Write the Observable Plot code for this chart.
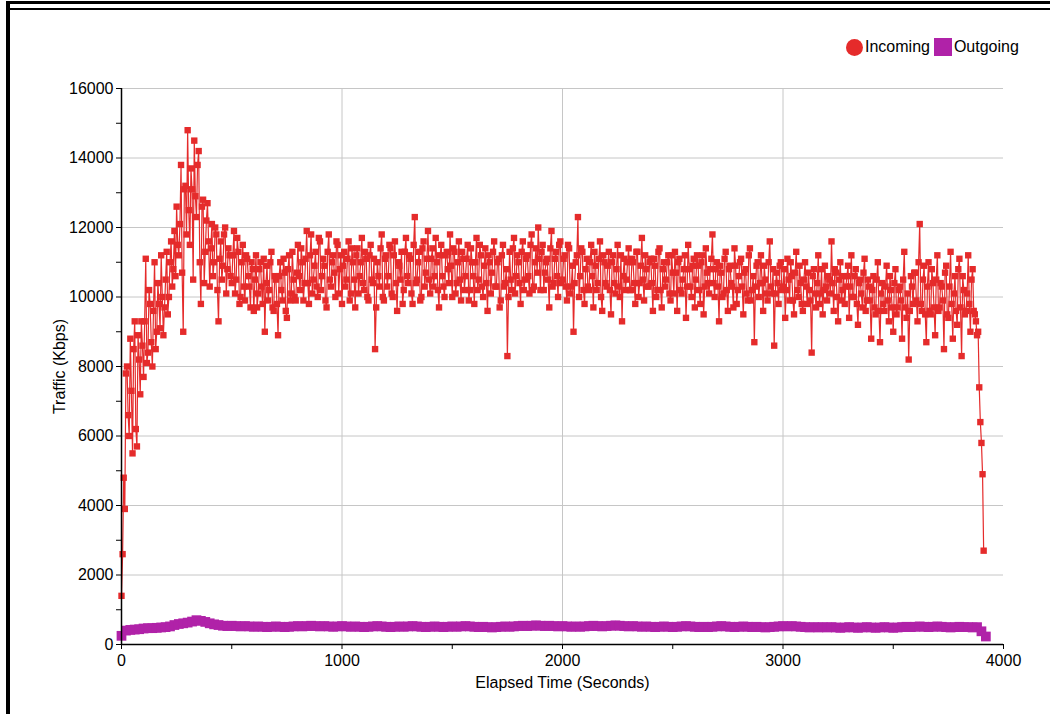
<!DOCTYPE html>
<html><head><meta charset="utf-8">
<script src="https://cdn.jsdelivr.net/npm/d3@7"></script>
<script src="https://cdn.jsdelivr.net/npm/@observablehq/plot@0.6"></script>
<style>
body{margin:0;background:#fff;font-family:"Liberation Sans",Arial,sans-serif;}
#wrap{position:relative;width:1050px;height:714px;overflow:hidden;background:#fff}
#chart{position:absolute;left:0;top:0}
.bar{position:absolute;background:#000}
#legend{position:absolute;left:846px;top:37px;height:20px;font-size:16px;color:#000;display:flex;align-items:center}
#legend .c{width:17px;height:17px;border-radius:50%;background:#e52b2b;margin-right:2px}
#legend .s{width:18px;height:18px;background:#b022a8;margin:0 2px 0 4px}
</style></head><body>
<div id="wrap">
  <div id="chart"></div>
  <div class="bar" style="left:6px;top:1px;width:1044px;height:3px"></div>
  <div class="bar" style="left:10px;top:8px;width:1040px;height:2px"></div>
  <div class="bar" style="left:6px;top:1px;width:4px;height:713px"></div>
  <div id="legend"><div class="c"></div><span>Incoming</span><div class="s"></div><span>Outgoing</span></div>
</div>
<script>
// Incoming traffic (Kbps): samples at t = 0, 10, 20, ... s
const incomingA = [
  1400, 4800, 7800, 6600, 8800, 5500, 9300, 5700, 8200, 9300,
  7700, 11100, 8400, 9800, 8000, 11000, 9000, 9800, 11200, 8900,
  10500, 9500, 11000, 10300, 11900, 12600, 11200, 13800, 9000, 13200,
  14800, 11500, 13100, 14500, 12300, 14200, 9800, 12800, 11300, 12700,
  10300, 12100, 11000, 11800, 9300, 11600, 10900, 12000, 10800, 11200,
  10400, 11900, 10500, 11300, 10000, 11500, 9900, 11100, 10300, 11000,
  9600, 11200, 10100, 11000, 9800, 9000, 10900, 10200, 11300, 9600,
  10500, 8900, 11000, 9900, 10700, 9400, 11200, 10100, 10500, 9900,
  11500, 10200, 11000, 10400, 11900, 9800, 11800, 10500, 11300, 10000,
  11600, 10600, 10900, 9700, 11800, 10300, 11200, 10000, 11500, 10800,
  9800, 11300, 10500, 11600, 10100, 11000, 9700, 11400, 10600, 11700,
  10200, 11100, 9900, 11500, 10400, 8500, 11000, 10300, 11800, 9900,
  11200, 10600, 11400, 10000, 11600, 9600, 10900, 11300, 10200, 11700,
  10400, 11100, 9800, 12300, 10500, 11300, 10000, 11600, 10700, 11900,
  10100, 11400, 10600, 11000, 9700, 11500, 10300, 11200, 10800, 11800,
  10000, 11300, 10400, 11600, 9900, 11100, 10600, 11500, 10200, 11000,
  9800, 11700, 10500, 11200, 10000, 11400, 9600, 11000, 10700, 11600,
  10300, 11100, 9900, 11500, 10400, 8300, 11300, 10200, 11700, 10600,
  11000, 9800, 11600, 10500, 11200, 10100, 11800, 10300, 11400, 12000,
  10200, 11500, 10700, 11100, 9700, 11900, 10400, 11300, 10000, 11600,
  10500, 11200, 9900, 11400, 10300, 9000, 11000, 12300, 10600, 11300,
  9800, 11100, 10200, 11500, 9700, 10900, 10400, 11600, 9600, 11000,
  10300, 11300, 9500, 11200, 10100, 11500, 10000, 9300, 11100, 10500,
  11400, 10200, 11000, 9800, 11300, 10400, 11700, 9900, 10800, 10300,
  11100, 9600, 10900, 10200, 11400, 9700, 11000, 10500, 11200, 9900,
  10700, 11300, 9600, 11100, 10100, 10800, 9400, 11500, 10300, 10900,
  9700, 11200, 10200, 11000, 9500, 11400, 10400, 10800, 11800, 10000,
  11000, 9300, 10700, 10100, 11300, 9600, 10900, 10300, 11400, 9800,
  10600, 11100, 9500, 10800, 9900, 11400, 10200, 8700, 10900, 10000,
  11200, 9600, 10500, 9900, 11600, 10100, 8600, 10700, 9800, 11000,
  10300, 9400, 11100, 9900, 10600, 9500, 11300, 10000, 10400, 9600,
  11000, 9800, 10200, 8400, 10800, 9700, 11200, 10100, 9500, 10900,
  9900, 10500, 11600, 9600, 10700, 9300, 11000, 10200, 9800, 10600,
  9400, 11200, 10000, 10800, 9200, 10500, 9700, 11100, 9900, 10300,
  8800, 10600, 9500, 11000, 8700, 10400, 9600, 10900, 9300, 10200,
  9000, 10800, 9700, 10300, 8800, 11300, 9400, 8200, 10600, 9800,
  10700, 9300, 12100, 9600, 10900, 8700, 11000, 9500, 10400, 8900,
  11200, 9700, 10300, 8500, 10900, 9400, 11300, 8800, 10600, 9200,
  11100, 8300, 10200, 9600, 11200, 9000, 10800, 9500, 8900, 7400,
  5800, 2700
];
// Incoming traffic (Kbps): samples at t = 5, 15, 25, ... s
const incomingB = [
  2600, 3900, 8000, 6000, 7300, 8500, 6200, 8900, 7200, 8600,
  9300, 8100, 10200, 8700, 9600, 8500, 10400, 9100, 10000, 9700,
  11300, 10000, 11600, 10800, 10600, 11500, 12100, 10700, 13100, 11800,
  12500, 13700, 10500, 12900, 13800, 11000, 12600, 10400, 12200, 11600,
  11400, 10600, 12000, 10200, 11100, 10500, 11800, 10100, 11400, 10600,
  11200, 10100, 11700, 9800, 11000, 10300, 11200, 10600, 9700, 10800,
  10500, 9700, 10800, 10300, 11100, 10400, 9900, 11000, 9700, 10600,
  9800, 10600, 10200, 11100, 9600, 10800, 9900, 11300, 10000, 10700,
  10600, 11400, 9900, 11100, 10400, 11200, 10100, 10900, 10300, 11700,
  10200, 11100, 9900, 11300, 10500, 11000, 10700, 11600, 10100, 11200,
  10900, 10300, 11100, 9900, 11400, 10500, 11200, 10100, 11000, 10400,
  11300, 10000, 11200, 10500, 11100, 9700, 10600, 11400, 10000, 11100,
  10300, 11500, 10100, 11200, 10400, 11000, 10500, 9800, 11300, 10600,
  11200, 10100, 11500, 10400, 11000, 9900, 11400, 10300, 11100, 10500,
  11100, 10300, 11700, 10200, 11200, 10600, 10000, 11300, 10400, 10900,
  11400, 10100, 11000, 10500, 11300, 10200, 11100, 9900, 11400, 10600,
  11000, 10200, 11500, 10300, 10900, 10400, 11200, 10100, 11300, 10300,
  11000, 9700, 11200, 10300, 10800, 10000, 10500, 11400, 10100, 11200,
  10400, 11300, 10200, 11100, 10600, 11500, 10200, 11000, 10700, 11100,
  11300, 10200, 11000, 10500, 11400, 10300, 11100, 10600, 11500, 10400,
  11100, 10300, 11500, 10100, 10900, 10400, 11200, 10000, 11400, 10200,
  10800, 10300, 11000, 10600, 11300, 10200, 11100, 10000, 11200, 10400,
  10900, 10200, 11000, 10400, 10800, 10300, 11200, 10600, 10200, 11000,
  10200, 11100, 10400, 11300, 10000, 10900, 10500, 11200, 10300, 11000,
  10400, 11100, 10000, 11300, 10200, 10800, 10300, 11000, 10100, 11200,
  10100, 10700, 11000, 10200, 10500, 11200, 10300, 10800, 10000, 11100,
  10500, 10900, 9800, 11200, 10300, 10700, 10100, 11100, 10400, 10800,
  10300, 10900, 10000, 11100, 10200, 10800, 10400, 9700, 10900, 10200,
  11000, 10300, 10700, 10100, 11200, 9900, 10600, 10300, 11000, 10400,
  10400, 10900, 10100, 11000, 10300, 10800, 10100, 10400, 10900, 10200,
  10800, 10200, 10500, 11000, 9900, 10700, 10200, 10900, 9800, 10500,
  10300, 10700, 9900, 10600, 10100, 10400, 9800, 10800, 10200, 10300,
  10600, 10100, 10400, 10800, 10000, 10500, 9900, 10600, 10300, 10900,
  10300, 10000, 10600, 9800, 10400, 10100, 10700, 9600, 10500, 9900,
  10200, 9700, 10500, 9600, 10100, 9800, 10300, 9900, 10600, 9700,
  10400, 9500, 10200, 9900, 10500, 9700, 10100, 9600, 10300, 10700,
  9900, 11000, 9800, 10500, 9500, 10300, 9600, 10800, 9700, 10500,
  9600, 10400, 9900, 10700, 9500, 10300, 9800, 10100, 9600, 10800,
  9700, 10600, 9500, 10100, 9800, 10500, 9600, 9300, 9000, 6400,
  4900
];
// Outgoing traffic (Kbps), one sample every 20 s starting at t = 0
const outgoing = [
  250, 400, 420, 430, 440, 460, 470, 470, 480, 490,
  500, 520, 560, 590, 610, 630, 660, 700, 680, 650,
  610, 580, 560, 540, 530, 540, 530, 520, 530, 520,
  510, 520, 510, 500, 510, 520, 510, 500, 510, 520,
  530, 520, 530, 540, 530, 520, 530, 520, 510, 520,
  530, 520, 510, 520, 510, 500, 510, 520, 530, 520,
  510, 500, 510, 520, 510, 520, 530, 520, 510, 500,
  510, 520, 510, 500, 510, 520, 510, 520, 530, 520,
  510, 500, 510, 500, 490, 500, 510, 520, 510, 520,
  530, 540, 530, 540, 550, 540, 530, 540, 530, 520,
  530, 520, 510, 520, 510, 520, 530, 540, 530, 520,
  530, 540, 550, 540, 530, 520, 530, 520, 510, 520,
  510, 500, 510, 520, 510, 500, 510, 520, 530, 520,
  510, 500, 510, 500, 510, 520, 530, 520, 510, 500,
  510, 520, 510, 500, 510, 500, 490, 500, 510, 520,
  530, 520, 530, 520, 510, 500, 490, 500, 490, 500,
  490, 500, 490, 480, 490, 500, 490, 480, 490, 500,
  490, 480, 490, 500, 490, 480, 490, 500, 510, 500,
  510, 520, 510, 500, 510, 520, 510, 500, 490, 500,
  510, 500, 500, 490, 500, 380, 230
];
const xTicks = [0, 1000, 2000, 3000, 4000];
const xMinor = [500, 1500, 2500, 3500];
const yTicks = [0, 2000, 4000, 6000, 8000, 10000, 12000, 14000, 16000];
const yMinor = [1000, 3000, 5000, 7000, 9000, 11000, 13000, 15000];
const xTitle = "Elapsed Time (Seconds)";
const yTitle = "Traffic (Kbps)";

const RED = "#e52b2b", PURPLE = "#b022a8";
const inData = incomingA.map((v, i) => ({t: i * 10, v}))
  .concat(incomingB.map((v, i) => ({t: i * 10 + 5, v})))
  .sort((a, b) => a.t - b.t);
const outData = outgoing.map((v, i) => ({t: i * 20, v}));
const plain = d => String(d);

const chart = Plot.plot({
  width: 1050, height: 714,
  marginLeft: 121, marginRight: 47, marginTop: 88, marginBottom: 70,
  style: {fontFamily: "'Liberation Sans', Arial, sans-serif", fontSize: "16px", color: "#000", background: "#fff"},
  x: {domain: [0, 4000]},
  y: {domain: [0, 16000]},
  marks: [
    Plot.gridY(yTicks.slice(1), {stroke: "#c6c6c6", strokeOpacity: 1}),
    Plot.gridX(xTicks.slice(1, 4), {stroke: "#c6c6c6", strokeOpacity: 1}),
    Plot.line(outData, {x: "t", y: "v", stroke: PURPLE, strokeWidth: 6}),
    Plot.dot(outData, {x: "t", y: "v", symbol: "square", r: 5.5, fill: PURPLE}),
    Plot.line(inData, {x: "t", y: "v", stroke: RED, strokeWidth: 1.2}),
    Plot.dot(inData, {x: "t", y: "v", symbol: "square", r: 3.6, fill: RED}),
    Plot.ruleY([0], {stroke: "#000", strokeWidth: 1.5}),
    Plot.ruleX([0], {stroke: "#000", strokeWidth: 1.5}),
    Plot.axisX(xTicks, {tickSize: 5, tickPadding: 5, label: null, fontSize: 16, tickFormat: plain}),
    Plot.axisX(xMinor, {tickSize: 5, tickFormat: () => "", label: null}),
    Plot.axisY(yTicks, {tickSize: 5, tickPadding: 3, label: null, fontSize: 16, tickFormat: plain}),
    Plot.axisY(yMinor, {tickSize: 5, tickFormat: () => "", label: null}),
    Plot.text([xTitle], {frameAnchor: "bottom", dy: 43, fontSize: 16, fill: "#000", textAnchor: "middle"}),
    Plot.text([yTitle], {frameAnchor: "left", dx: -62, rotate: -90, fontSize: 16, fill: "#000", textAnchor: "middle"})
  ]
});
document.getElementById("chart").appendChild(chart);
</script>
</body></html>
